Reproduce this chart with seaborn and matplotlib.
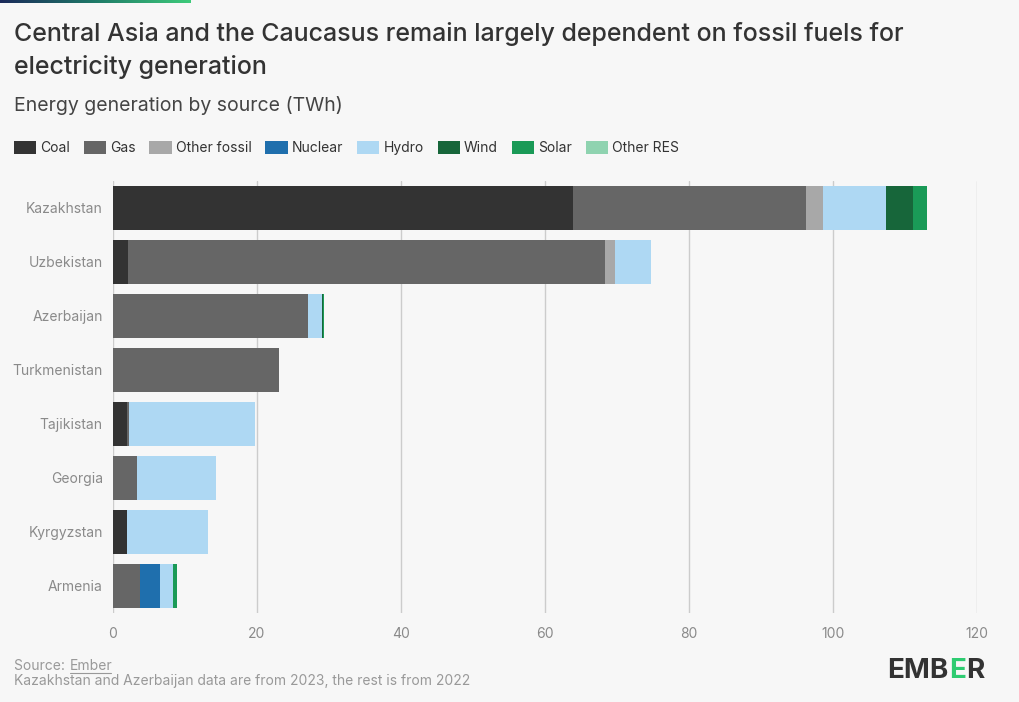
import numpy as np
import pandas as pd
import seaborn as sns
import matplotlib.pyplot as plt
from matplotlib.patches import Patch

countries = ['Kazakhstan', 'Uzbekistan', 'Azerbaijan', 'Turkmenistan',
             'Tajikistan', 'Georgia', 'Kyrgyzstan', 'Armenia']
sources = ['Coal', 'Gas', 'Other fossil', 'Nuclear', 'Hydro', 'Wind', 'Solar', 'Other RES']
colors = ['#333333', '#666666', '#a8a8a8', '#1f6fad', '#aed8f3', '#17663a', '#1a9a57', '#8fd3b0']

coal = [63.9, 2.2, 0.0, 0.0, 2.0, 0.0, 2.0, 0.0]
gas = [32.3, 66.1, 27.2, 23.1, 0.3, 3.4, 0.0, 3.8]
other_fossil = [2.4, 1.5, 0.0, 0.0, 0.0, 0.0, 0.0, 0.0]
nuclear = [0.0, 0.0, 0.0, 0.0, 0.0, 0.0, 0.0, 2.8]
hydro = [8.8, 5.0, 1.9, 0.0, 17.5, 10.9, 11.2, 1.8]
wind = [3.7, 0.0, 0.1, 0.0, 0.0, 0.1, 0.0, 0.0]
solar = [1.9, 0.0, 0.2, 0.0, 0.0, 0.0, 0.0, 0.5]
other_res = [0.1, 0.0, 0.0, 0.0, 0.0, 0.0, 0.0, 0.0]

df = pd.DataFrame({'Country': countries, 'Coal': coal, 'Gas': gas,
                   'Other fossil': other_fossil, 'Nuclear': nuclear, 'Hydro': hydro,
                   'Wind': wind, 'Solar': solar, 'Other RES': other_res})
cum = df[sources].cumsum(axis=1)

bg = '#f7f7f7'
sns.set_theme(style='white', rc={'figure.facecolor': bg, 'axes.facecolor': bg})
plt.rcParams['font.family'] = ['Inter', 'DejaVu Sans']

fig = plt.figure(figsize=(10.2, 7.02), dpi=100)
ax = fig.add_axes([0.1103, 0.1268, 0.8475, 0.6154])

# stack by drawing cumulative totals from the top layer down
for src, col in reversed(list(zip(sources, colors))):
    sns.barplot(x=cum[src], y=df['Country'], orient='h', color=col,
                width=0.8, saturation=1, ax=ax, linewidth=0)

ax.set_xlim(0, 120)
ax.set_ylim(7.5, -0.5)
ax.set_xticks([0, 20, 40, 60, 80, 100, 120])
ax.xaxis.grid(True, color='#cccccc', linewidth=1)
ax.set_axisbelow(True)
ax.set_xlabel('')
ax.set_ylabel('')
sns.despine(ax=ax, left=True, bottom=True)
ax.tick_params(axis='both', length=0, labelsize=10, labelcolor='#8a8a8a')
ax.tick_params(axis='x', pad=10)
ax.tick_params(axis='y', pad=7)

# gradient strip at the top
grad = np.linspace(0, 1, 256).reshape(1, -1)
gax = fig.add_axes([0, 0.9957, 0.187, 0.0043])
gax.imshow(grad, aspect='auto', cmap=sns.blend_palette(['#1b2a5a', '#1f7a68', '#3ecb7b'], as_cmap=True))
gax.axis('off')

fig.text(0.0137, 0.969, 'Central Asia and the Caucasus remain largely dependent on fossil fuels for\nelectricity generation',
         fontsize=18, fontweight='medium', color='#333333', va='top', ha='left', linespacing=1.5)
fig.text(0.0137, 0.863, 'Energy generation by source (TWh)', fontsize=14,
         color='#444444', va='top', ha='left')

handles = [Patch(facecolor=c, edgecolor='none', label=s) for s, c in zip(sources, colors)]
fig.legend(handles=handles, loc='upper left', bbox_to_anchor=(0.001, 0.8165), ncol=8,
           frameon=False, fontsize=10, handlelength=1.6, handleheight=1.0,
           handletextpad=0.3, columnspacing=1.0, labelcolor='#333333')

# footer
fig.text(0.0137, 0.0456, 'Source: ', fontsize=10, color='#999999', ha='left', va='baseline')
fig.text(0.0686, 0.0456, 'Ember', fontsize=10, color='#999999', ha='left', va='baseline')
fig.add_artist(plt.Line2D([0.0686, 0.1085], [0.0415, 0.0415], color='#999999', linewidth=0.8))
fig.text(0.0137, 0.0245, 'Kazakhstan and Azerbaijan data are from 2023, the rest is from 2022',
         fontsize=10, color='#999999', ha='left', va='baseline')

fig.text(0.870, 0.025, 'EMB', fontsize=20, fontweight='bold', color='#333333', ha='left', va='bottom')
fig.text(0.931, 0.025, 'E', fontsize=20, fontweight='bold', color='#2ecc71', ha='left', va='bottom')
fig.text(0.947, 0.025, 'R', fontsize=20, fontweight='bold', color='#333333', ha='left', va='bottom')

fig.savefig('out.png', dpi=100, facecolor=bg)
